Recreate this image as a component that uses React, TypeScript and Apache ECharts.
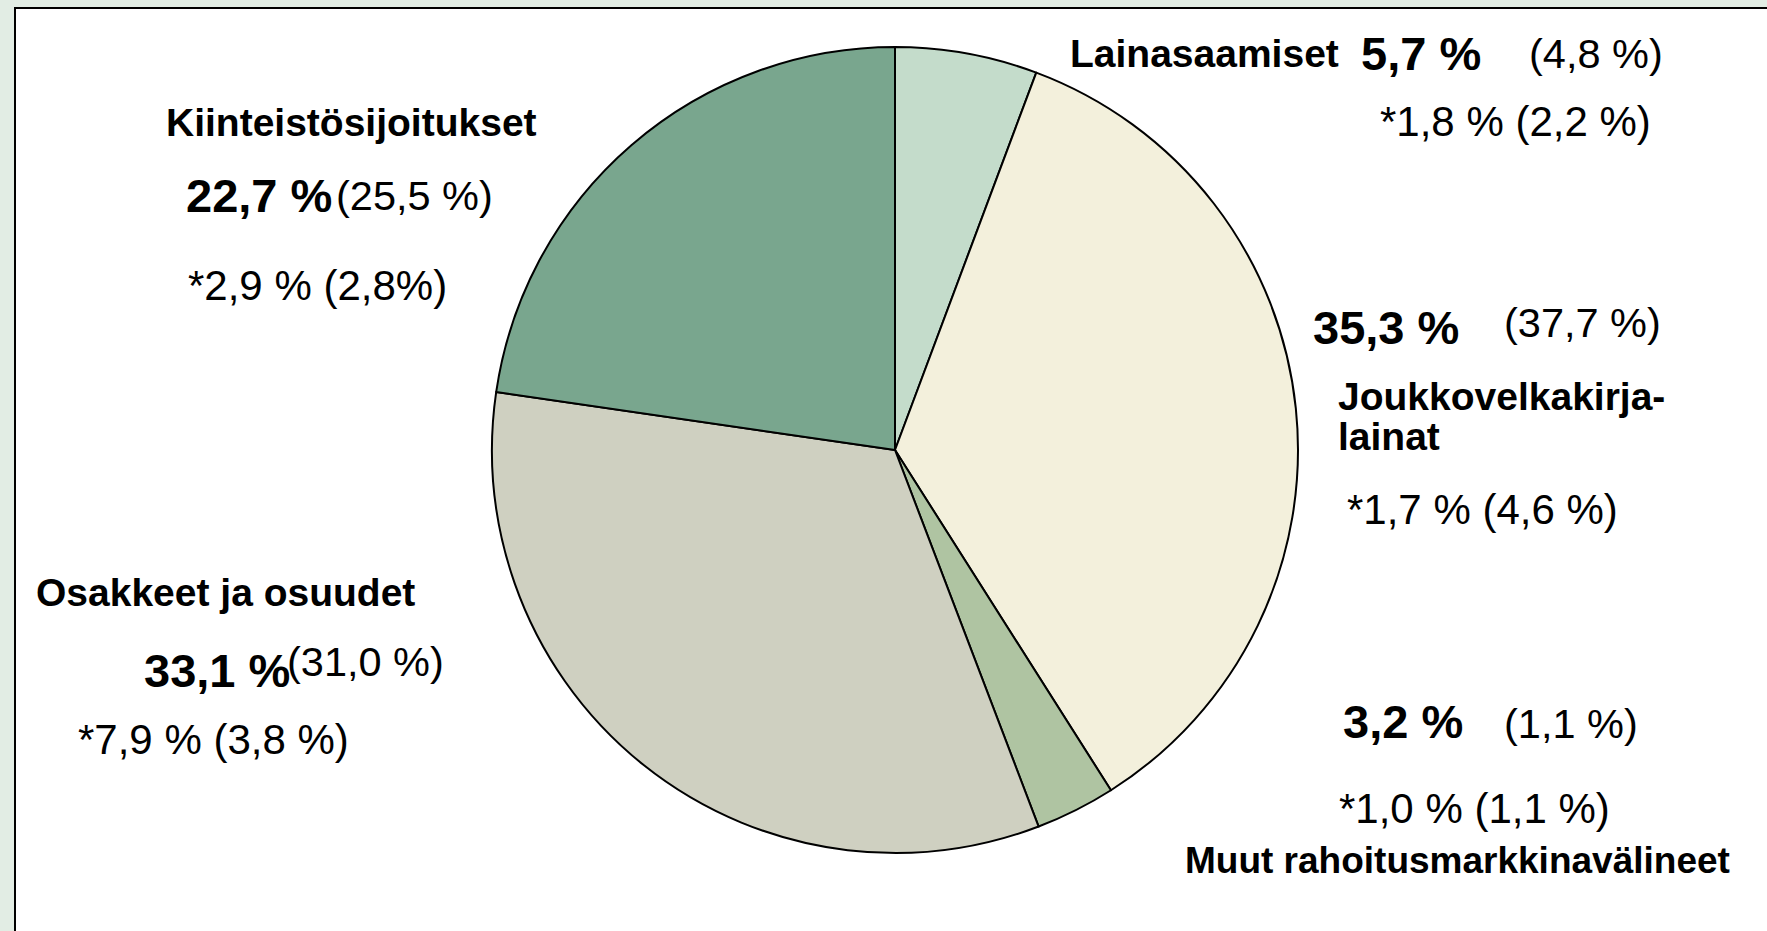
import React, { useEffect, useRef } from "react";
import * as echarts from "echarts";

const categories = [
  "Lainasaamiset",
  "Joukkovelkakirjalainat",
  "Muut rahoitusmarkkinavälineet",
  "Osakkeet ja osuudet",
  "Kiinteistösijoitukset",
];
const categoryLabels = [
  "Lainasaamiset",
  "Joukkovelkakirja-\nlainat",
  "Muut rahoitusmarkkinavälineet",
  "Osakkeet ja osuudet",
  "Kiinteistösijoitukset",
];
const shares = [5.7, 35.3, 3.2, 33.1, 22.7];
const prevShares = [4.8, 37.7, 1.1, 31.0, 25.5];
const returns = [1.8, 1.7, 1.0, 7.9, 2.9];
const prevReturns = [2.2, 4.6, 1.1, 3.8, 2.8];
const prevReturnSpaced = [true, true, true, true, false];
const sliceColors = ["#c4dccb", "#f3f0dc", "#afc4a2", "#cfd0c1", "#79a68e"];

// label layout: [x, y] left / vertical middle
const nameLayout = [
  [1070, 53],
  [1338, 416],
  [1185, 860],
  [36, 592],
  [166, 122],
];
const nameSize = [39, 39, 37, 39, 39];
const shareLayout = [
  [1361, 53],
  [1313, 327],
  [1343, 721],
  [144, 670],
  [186, 195],
];
const prevLayout = [
  [1529, 53],
  [1504, 322],
  [1504, 723],
  [287, 661],
  [336, 195],
];
const retLayout = [
  [1380, 121],
  [1347, 509],
  [1339, 808],
  [78, 739],
  [188, 285],
];

const FONT = "'Liberation Sans', Arial, Helvetica, sans-serif";
const fmt = (v: number) => v.toFixed(1).replace(".", ",");

export default function App() {
  const ref = useRef<HTMLDivElement>(null);
  useEffect(() => {
    document.body.style.margin = "0";
    if (!ref.current) return;
    const chart = echarts.init(ref.current, null, { renderer: "svg" });
    const texts: any[] = [];
    categories.forEach((_, i) => {
      texts.push({
        type: "text",
        x: nameLayout[i][0],
        y: nameLayout[i][1],
        z: 10,
        style: {
          text: categoryLabels[i],
          font: `bold ${nameSize[i]}px ${FONT}`,
          fill: "#000",
          textAlign: "left",
          textVerticalAlign: "middle",
          lineHeight: 40,
        },
      });
      texts.push({
        type: "text",
        x: shareLayout[i][0],
        y: shareLayout[i][1],
        z: 10,
        style: {
          text: `${fmt(shares[i])} %`,
          font: `bold 47px ${FONT}`,
          fill: "#000",
          textAlign: "left",
          textVerticalAlign: "middle",
        },
      });
      texts.push({
        type: "text",
        x: prevLayout[i][0],
        y: prevLayout[i][1],
        z: 10,
        style: {
          text: `(${fmt(prevShares[i])} %)`,
          font: `41.5px ${FONT}`,
          fill: "#000",
          textAlign: "left",
          textVerticalAlign: "middle",
        },
      });
      texts.push({
        type: "text",
        x: retLayout[i][0],
        y: retLayout[i][1],
        z: 10,
        style: {
          text: `*${fmt(returns[i])} % (${fmt(prevReturns[i])}${prevReturnSpaced[i] ? " " : ""}%)`,
          font: `42px ${FONT}`,
          fill: "#000",
          textAlign: "left",
          textVerticalAlign: "middle",
        },
      });
    });

    chart.setOption({
      animation: false,
      backgroundColor: "#e2ede4",
      graphic: [
        {
          type: "rect",
          z: -10,
          silent: true,
          shape: { x: 15, y: 8, width: 1800, height: 1000 },
          style: { fill: "#ffffff", stroke: "#000000", lineWidth: 2 },
        },
        ...texts,
      ],
      series: [
        {
          type: "pie",
          center: [895, 450],
          radius: 403,
          startAngle: 90,
          clockwise: true,
          label: { show: false },
          labelLine: { show: false },
          emphasis: { disabled: true },
          itemStyle: { borderColor: "#000000", borderWidth: 2 },
          data: categories.map((c, i) => ({
            name: c,
            value: shares[i],
            itemStyle: { color: sliceColors[i] },
          })),
        },
      ],
    });
    return () => chart.dispose();
  }, []);
  return <div ref={ref} style={{ width: 1767, height: 931 }} />;
}
